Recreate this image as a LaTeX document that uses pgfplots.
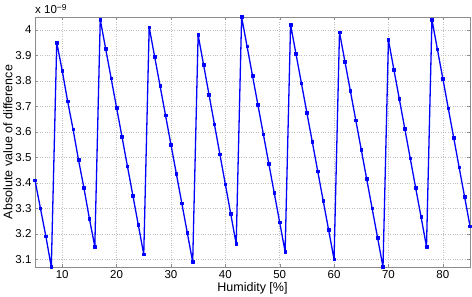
\documentclass[border=0pt]{standalone}
\usepackage{fontspec}
\setmainfont{Liberation Sans}
\usepackage{pgfplots}
\pgfplotsset{compat=1.18}
\definecolor{axgray}{gray}{0.55}
\definecolor{gridgray}{gray}{0.75}
\begin{document}
\begin{tikzpicture}[x=1pt,y=1pt]
\path[use as bounding box] (0,0) rectangle (472,297);
\begin{axis}[
  at={(35pt,30pt)}, anchor=south west,
  scale only axis, width=435pt, height=250pt,
  xmin=5, xmax=85, ymin=3.07, ymax=4.05,
  clip mode=individual,
  xtick={10,20,...,80},
  ytick={3.1,3.2,...,4.0},
  /pgf/number format/assume math mode=true,
  tick label style={font=\fontsize{11.5}{13}\selectfont, text=black},
  label style={font=\fontsize{12.5}{14}\selectfont},
  xlabel={Humidity [\%]},
  ylabel={Absolute value of difference},
  xlabel style={yshift=3pt},
  ylabel style={yshift=-4pt},
  axis line style={axgray, line width=0.8pt},
  tick style={axgray},
  tick align=inside,
  major tick length=3pt,
  xtick pos=both, ytick pos=both,
  grid=major,
  grid style={gridgray, dotted, line width=0.5pt},
]
\addplot[draw=blue, line width=1.3pt, line join=round, mark=square*, mark size=1.3pt, mark options={solid, draw=blue, fill=blue, line width=0.5pt}] coordinates {
(5,3.41) (6,3.30) (7,3.19) (8,3.07)
(9,3.95) (10,3.84) (11,3.72) (12,3.61) (13,3.49) (14,3.38) (15,3.26) (16,3.15)
(17,4.04) (18,3.925) (19,3.81) (20,3.695) (21,3.58) (22,3.465) (23,3.35) (24,3.235) (25,3.12)
(26,4.01) (27,3.895) (28,3.78) (29,3.665) (30,3.55) (31,3.435) (32,3.32) (33,3.205) (34,3.09)
(35,3.98) (36,3.863) (37,3.746) (38,3.629) (39,3.512) (40,3.395) (41,3.278) (42,3.16)
(43,4.05) (44,3.935) (45,3.82) (46,3.705) (47,3.59) (48,3.475) (49,3.36) (50,3.245) (51,3.13)
(52,4.02) (53,3.905) (54,3.79) (55,3.675) (56,3.56) (57,3.445) (58,3.33) (59,3.215) (60,3.10)
(61,3.99) (62,3.875) (63,3.76) (64,3.645) (65,3.53) (66,3.415) (67,3.30) (68,3.185) (69,3.07)
(70,3.96) (71,3.844) (72,3.729) (73,3.613) (74,3.497) (75,3.381) (76,3.266) (77,3.15)
(78,4.04) (79,3.924) (80,3.809) (81,3.693) (82,3.577) (83,3.461) (84,3.346) (85,3.23)
};
\node[anchor=south west, inner sep=0pt, font=\fontsize{11.5}{13}\selectfont] at (rel axis cs:0,1) [yshift=3pt] {x 10\raisebox{0.5ex}{\fontsize{8.5}{9}\selectfont −9}};
\end{axis}
\end{tikzpicture}
\end{document}
